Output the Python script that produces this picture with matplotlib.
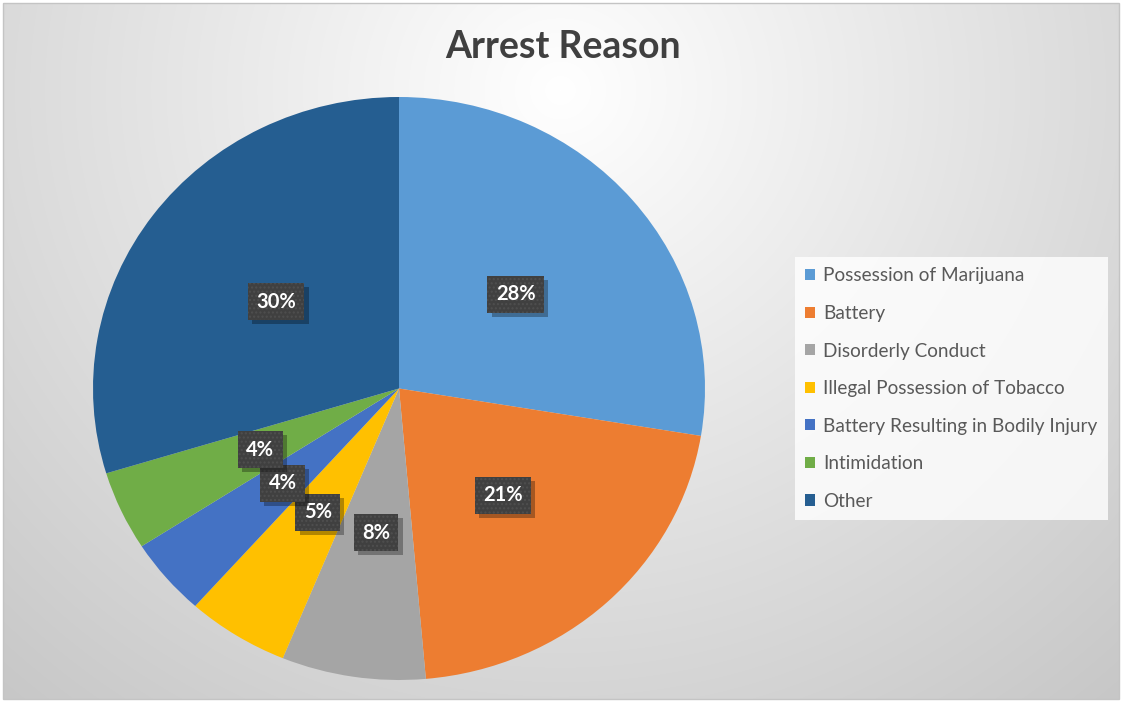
import numpy as np
import matplotlib.pyplot as plt
import matplotlib.patheffects as pe
from matplotlib.patches import Patch, Rectangle

# Arrest reasons and their share of all arrests (%)
categories = [
    "Possession of Marijuana",
    "Battery",
    "Disorderly Conduct",
    "Illegal Possession of Tobacco",
    "Battery Resulting in Bodily Injury",
    "Intimidation",
    "Other",
]
shares = [27.6, 21.0, 7.6, 5.4, 4.3, 4.4, 29.7]
colors = ["#5B9BD5", "#ED7D31", "#A5A5A5", "#FFC000", "#4472C4", "#70AD47", "#255E91"]
title = "Arrest Reason"


class FlatShadow(pe.SimplePatchShadow):
    """Drop shadow drawn without the patch's hatch pattern."""

    def draw_path(self, renderer, gc, tpath, affine, rgbFace):
        gc0 = renderer.new_gc()
        gc0.copy_properties(gc)
        gc0.set_hatch(None)
        super().draw_path(renderer, gc0, tpath, affine, rgbFace)
        gc0.restore()


W, H = 1122, 702
fig = plt.figure(figsize=(W / 100, H / 100), dpi=100)
fig.patch.set_facecolor("white")

# Soft radial background
bg = fig.add_axes([0, 0, 1, 1])
bg.set_axis_off()
yy, xx = np.mgrid[0:H, 0:W]
d = np.hypot(xx - 560, (yy - 90) * 1.05)
v = np.clip(1.0 - 0.066 * d / 255.0, 0, 1)
m = 3
v[:m, :] = 1.0
v[-m:, :] = 1.0
v[:, :m] = 1.0
v[:, -m:] = 1.0
bg.imshow(np.dstack([v, v, v]), extent=[0, W, H, 0], interpolation="bilinear", aspect="auto")
bg.add_patch(Rectangle((m, m), W - 2 * m, H - 2 * m, fill=False, ec="#c4c4c4", lw=1))
bg.set_xlim(0, W)
bg.set_ylim(H, 0)

# Pie
ax = fig.add_axes([93 / W, (H - 680) / H, 612 / W, 583 / H])
wedges, texts, autotexts = ax.pie(
    shares,
    colors=colors,
    startangle=90,
    counterclock=False,
    autopct="%.0f%%",
    pctdistance=0.5,
    wedgeprops=dict(linewidth=0),
)
ax.set_aspect("auto")
ax.set_xlim(-1.0, 1.0)
ax.set_ylim(-1.0, 1.0)
ax.set_axis_off()
for w in wedges:
    w.set_clip_on(False)

# Dark data-label boxes with a drop shadow
for t in autotexts:
    t.set_fontfamily("Lato")
    t.set_fontweight("bold")
    t.set_fontsize(14.5)
    t.set_color("white")
    t.set_zorder(5)
    t.set_bbox(dict(boxstyle="square,pad=0.42", fc="#404040", ec="#4f4f4f",
                    lw=0, hatch="...."))
    t.get_bbox_patch().set_path_effects([
        FlatShadow(offset=(3, -3), shadow_rgbFace="black", alpha=0.3),
        pe.Normal(),
    ])

fig.text(563 / W, 1 - 47 / H, title, ha="center", va="center",
         fontfamily="Lato", fontweight="bold", fontsize=27, color="#404040")

handles = [Patch(facecolor=c, edgecolor="none") for c in colors]
leg = fig.legend(
    handles, categories,
    loc="upper left", bbox_to_anchor=(795 / W, 1 - 257 / H),
    borderaxespad=0, frameon=True, fancybox=False,
    prop=dict(family="Lato", size=13.7),
    labelcolor="#595959",
    handlelength=0.52, handleheight=0.52, handletextpad=0.4,
    labelspacing=1.08, borderpad=0.55,
)
frame = leg.get_frame()
frame.set_facecolor((1, 1, 1, 0.45))
frame.set_edgecolor("none")

fig.savefig("out.png", dpi=100)
